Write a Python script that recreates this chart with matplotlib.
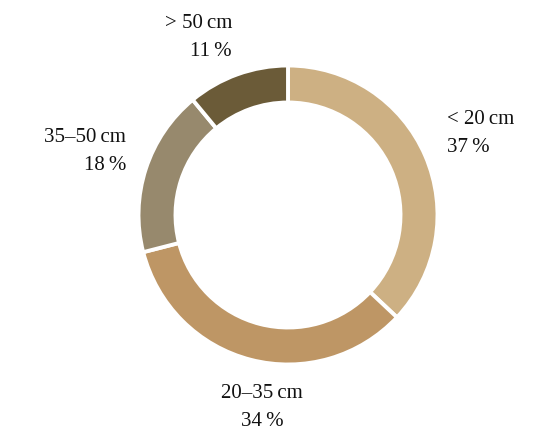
import matplotlib.pyplot as plt

plt.rcParams['font.family'] = ['Liberation Serif', 'DejaVu Serif']

# data
labels = ['< 20\u2009cm', '20–35\u2009cm', '35–50\u2009cm', '> 50\u2009cm']
values = [37, 34, 18, 11]
colors = ['#cdb083', '#be9665', '#97896d', '#6b5b38']

W, H = 535, 434
fig = plt.figure(figsize=(W / 100, H / 100), dpi=100)
ax = fig.add_axes([0, 0, 1, 1])

cx, cy, r = 288, H - 215, 149.5
ax.pie(values, colors=colors, startangle=90, counterclock=False,
       center=(cx, cy), radius=r, frame=True,
       wedgeprops=dict(width=37, edgecolor='white', linewidth=2.8))
ax.set_xlim(0, W)
ax.set_ylim(0, H)
ax.set_aspect('equal')
ax.axis('off')

# label anchors (x, y of first line, alignment)
pos = [(447, 120, 'left'), (262, 393, 'center'), (126, 138, 'right'), (232, 23, 'right')]
for (x, y, ha), lab, v in zip(pos, labels, values):
    ax.text(x, H - y, lab, ha=ha, va='center', fontsize=15, color='#111111')
    ax.text(x, H - y - 28, f'{v}\u2009%', ha=ha, va='center', fontsize=15, color='#111111')

plt.savefig('out.png', dpi=100)
